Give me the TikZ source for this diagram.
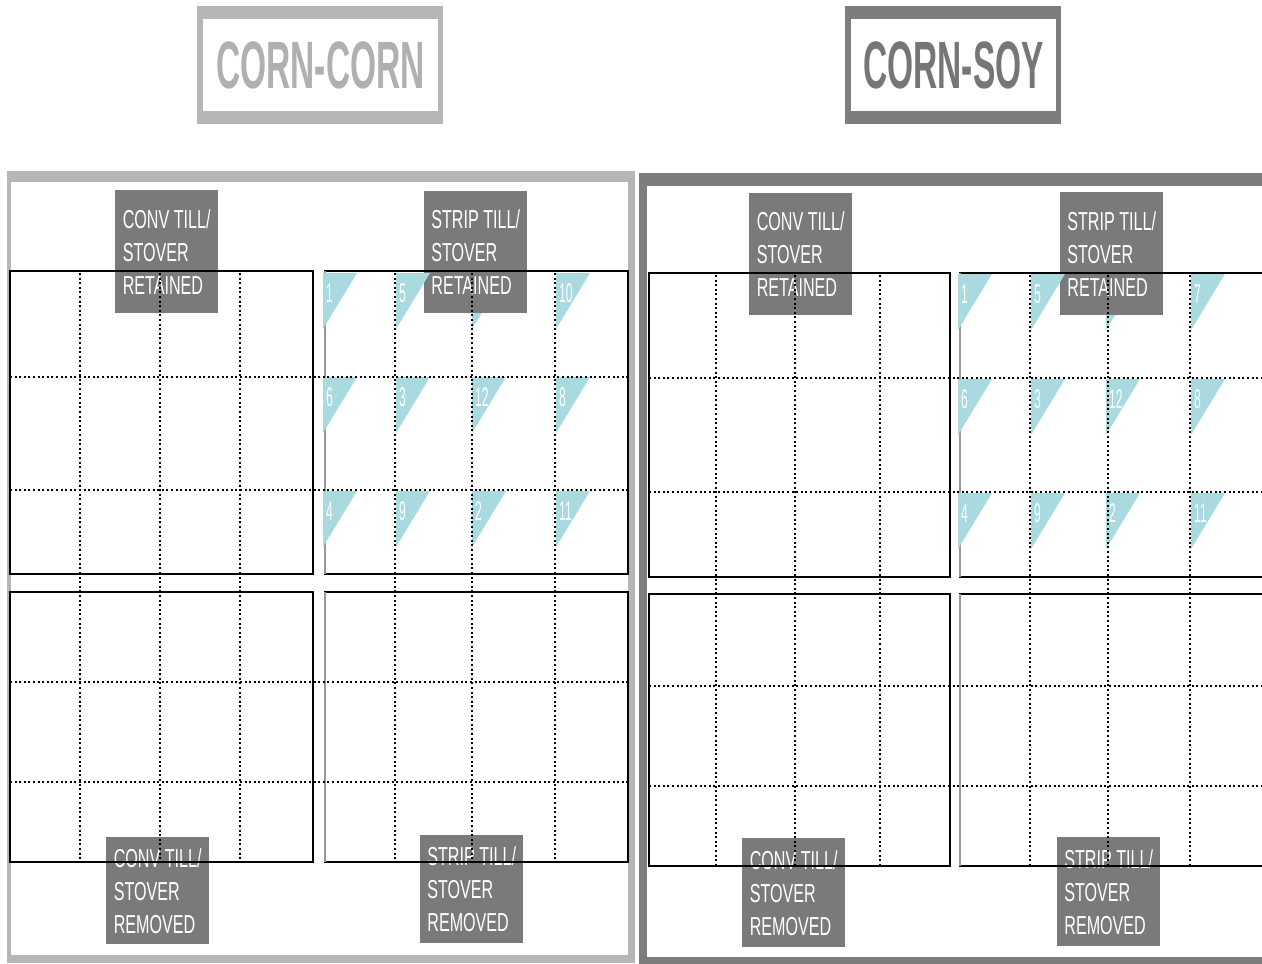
\documentclass[tikz,border=0pt]{standalone}
\usepackage{fontspec}
\setmainfont{Liberation Sans}
\newfontfamily\titlefam[FakeStretch=0.5]{Liberation Sans Bold}
\newfontfamily\labfam[FakeStretch=0.62]{Liberation Sans}
\newfontfamily\numfam[FakeStretch=0.45]{Liberation Sans}
\definecolor{lightframe}{RGB}{182,182,182}
\definecolor{darkframe}{RGB}{125,125,125}
\definecolor{labgray}{RGB}{122,122,122}
\definecolor{cyanfill}{RGB}{168,218,224}
\definecolor{lighttext}{RGB}{176,176,176}
\definecolor{darktext}{RGB}{118,118,118}
\tikzset{
  lab/.style={fill=labgray, text=white, font=\labfam\fontsize{26}{33}\selectfont,
    align=left, inner sep=0pt, minimum width=103pt, anchor=north west},
  blk/.style={draw=black, line width=2.4pt},
  graybk/.style={draw=gray!80, line width=2.4pt},
  dots/.style={line width=2.4pt, dash pattern=on 2pt off 2.6pt},
  tri/.style={fill=cyanfill, draw=none},
  num/.style={text=white, font=\numfam\fontsize{27}{27}\selectfont, anchor=west, inner sep=0pt},
  ttl/.style={font=\titlefam\fontsize{67}{67}\selectfont, inner sep=0pt}
}
\begin{document}
\begin{tikzpicture}[x=1pt,y=-1pt]
\useasboundingbox (0,0) rectangle (1262,964);
\clip (0,0) rectangle (1262,964);
\fill[white] (0,0) rectangle (1262,964);

% ---------- title boxes ----------
\fill[lightframe] (197,6) rectangle (443,124);
\fill[white] (203,19) rectangle (438,111);
\node[ttl, text=lighttext] (t1) at (320.5,65) {CORN-CORN};
\fill[darkframe] (845,6) rectangle (1061,124);
\fill[white] (851,19) rectangle (1056,111);
\node[ttl, text=darktext] (t2) at (953.5,65) {CORN-SOY};

% ---------- panel frames ----------
\fill[lightframe] (7,171) rectangle (635,963);
\fill[white] (11,182) rectangle (628,955);
\fill[darkframe] (639,173) rectangle (1275,975);
\fill[white] (647,186) rectangle (1275,957);

% ---------- hidden triangles (under labels) ----------
\fill[tri] (472,273) -- ++(34,0) -- ++(-34,56) -- cycle;
\fill[tri] (1106,274) -- ++(34,0) -- ++(-34,56) -- cycle;

% ---------- labels ----------
\node[lab, minimum height=123pt] (L1) at (115,190) {CONV TILL/\\STOVER\\RETAINED};
\node[lab, minimum height=122pt] (L2) at (424,191) {STRIP TILL/\\STOVER\\RETAINED};
\node[lab, minimum height=107pt] (L3) at (106,837) {CONV TILL/\\STOVER\\REMOVED};
\node[lab, minimum height=108pt] (L4) at (420,835) {STRIP TILL/\\STOVER\\REMOVED};
\node[lab, minimum height=122pt] (R1) at (749,193) {CONV TILL/\\STOVER\\RETAINED};
\node[lab, minimum height=123pt] (R2) at (1060,192) {STRIP TILL/\\STOVER\\RETAINED};
\node[lab, minimum height=109pt] (R3) at (742,838) {CONV TILL/\\STOVER\\REMOVED};
\node[lab, minimum height=109pt] (R4) at (1057,837) {STRIP TILL/\\STOVER\\REMOVED};

% ---------- blocks (left panel) ----------
\draw[blk] (10,271) rectangle (313,574);
\draw[blk] (325,271) rectangle (628,574);
\draw[blk] (10,592) rectangle (313,862);
\draw[blk] (325,592) rectangle (628,862);
\draw[graybk] (325,271) -- (325,574);
\draw[graybk] (325,592) -- (325,862);

% ---------- blocks (right panel) ----------
\draw[blk] (649,273) rectangle (950,577);
\draw[blk] (960,273) rectangle (1280,577);
\draw[blk] (649,594) rectangle (950,866);
\draw[blk] (960,594) rectangle (1280,866);
\draw[graybk] (960,273) -- (960,577);
\draw[graybk] (960,594) -- (960,866);

% ---------- triangles with plot numbers ----------
\foreach \x/\y/\n/\id in {323/273/1/a,396/273/5/b,556/273/10/d,
                          323/377/6/e,396/377/3/f,472/377/12/g,556/377/8/h,
                          323/491/4/i,396/491/9/j,472/491/2/k,556/491/11/l}{
  \fill[tri] (\x,\y) -- ++(34,0) -- ++(-34,56) -- cycle;
  \node[num] (pl-\id) at (\x+3,\y+20) {\n};
}
\foreach \x/\y/\n/\id in {958/274/1/a,1031/274/5/b,1191/274/7/d,
                          958/379/6/e,1031/379/3/f,1106/379/12/g,1191/379/8/h,
                          958/493/4/i,1031/493/9/j,1106/493/2/k,1191/493/11/l}{
  \fill[tri] (\x,\y) -- ++(34,0) -- ++(-34,56) -- cycle;
  \node[num] (pr-\id) at (\x+3,\y+20) {\n};
}

% ---------- dotted grid lines ----------
\foreach \x in {80,160,240,395,472,555}{
  \draw[dots] (\x,273) -- (\x,860);
}
\foreach \y in {377,490,682,782}{
  \draw[dots] (10,\y) -- (628,\y);
}
\foreach \x in {716,795,880,1030,1108,1190}{
  \draw[dots] (\x,275) -- (\x,864);
}
\foreach \y in {378,492,686,786}{
  \draw[dots] (649,\y) -- (1262,\y);
}
\end{tikzpicture}
\end{document}
